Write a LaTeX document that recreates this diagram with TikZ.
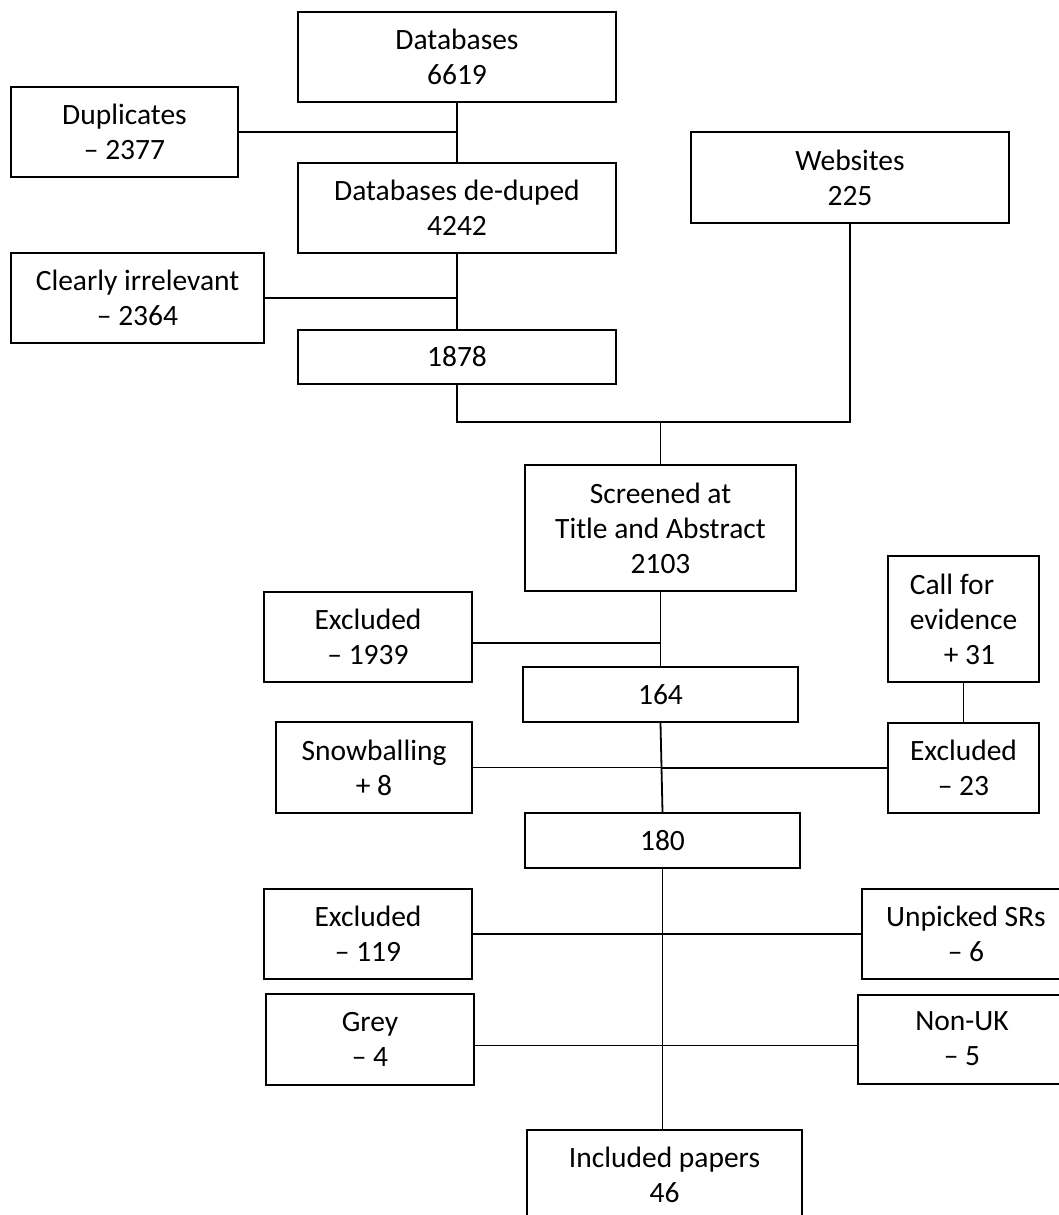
\documentclass[tikz,border=0pt]{standalone}
\usepackage{fontspec}
\setmainfont{Carlito}
\usepackage{tikz}

\begin{document}
\begin{tikzpicture}[x=1pt,y=-1pt,
		box/.style={draw,line width=2pt,align=center,inner sep=0pt,
			font=\fontsize{29.5}{35}\selectfont},
		link/.style={line width=1.8pt}]

		\clip (0,0) rectangle (1059,1215);

		\node at (457,57) [box,minimum width=318,minimum height=90] (Db) {Databases\\6619};
		\node at (124.5,132) [box,minimum width=227,minimum height=90] (Dupl) {Duplicates\\– 2377};
		\node at (457,208) [box,minimum width=318,minimum height=90] (DbDedup) {Databases de-duped\\4242};
		\node at (850,177.5) [box,minimum width=318,minimum height=91] (Web) {Websites\\225};
		\node at (137.5,298) [box,minimum width=253,minimum height=90] (Irrel) {Clearly irrelevant\\– 2364};
		\node at (457,357) [box,minimum width=318,minimum height=54] (N1878) {1878};

		\node at (660.5,528) [box,minimum width=271,minimum height=126] (Screen) {Screened at\\Title and Abstract\\2103};
		\node at (368,637) [box,minimum width=208,minimum height=90] (Excl1) {Excluded\\– 1939};
		\node at (963.5,619) [box,align=left,minimum width=151,minimum height=126] (Call) {Call for\\evidence\\\hspace*{34pt}+ 31};
		\node at (660.5,694.5) [box,minimum width=275,minimum height=55] (N164) {164};
		\node at (374,767.5) [box,minimum width=196,minimum height=91] (Snow) {Snowballing\\+ 8};
		\node at (963.5,768) [box,minimum width=151,minimum height=90] (Excl2) {Excluded\\– 23};
		\node at (662.5,840.5) [box,minimum width=275,minimum height=55] (N180) {180};

		\node at (368,934) [box,minimum width=208,minimum height=90] (Excl3) {Excluded\\– 119};
		\node at (966,934) [box,minimum width=208,minimum height=90] (Unpick) {Unpicked SRs\\– 6};
		\node at (370,1039.5) [box,minimum width=208,minimum height=91] (Grey) {Grey\\– 4};
		\node at (962,1039) [box,minimum width=208,minimum height=89] (NonUK) {Non-UK\\– 5};
		\node at (664.5,1175) [box,minimum width=275,minimum height=90] (Incl) {Included papers\\46};

		\coordinate (Join) at (660.5,422);

		\draw[link] (Db) -- (DbDedup);
		\draw[link] (Dupl.east) -- (Dupl.east -| Db.south);
		\draw[link] (DbDedup) -- (N1878);
		\draw[link] (Irrel.east) -- (Irrel.east -| DbDedup.south);
		\draw[link] (N1878.south) |- (Join) -| (Web.south);
		\draw[link] (Join) -- (Screen.north);

		\draw[link] (Screen.south) -- (N164.north);
		\draw[link] ([yshift=-6]Excl1.east) -- ([yshift=-6]Excl1.east -| Screen.south);
		\draw[link] (Call) -- (Excl2);
		\draw[link] (N164.south) -- (N180.north);
		\draw[link] (Snow.east) -- (Snow.east -| N164.south);
		\draw[link] (Excl2.west) -- (Excl2.west -| N164.south);

		\draw[link] (N180.south) -- (N180.south |- Incl.north);
		\draw[link] (Excl3.east) -- (Unpick.west);
		\draw[link] ([yshift=-6]Grey.east) -- ([yshift=-6]Grey.east -| NonUK.west);
	\end{tikzpicture}
\end{document}
